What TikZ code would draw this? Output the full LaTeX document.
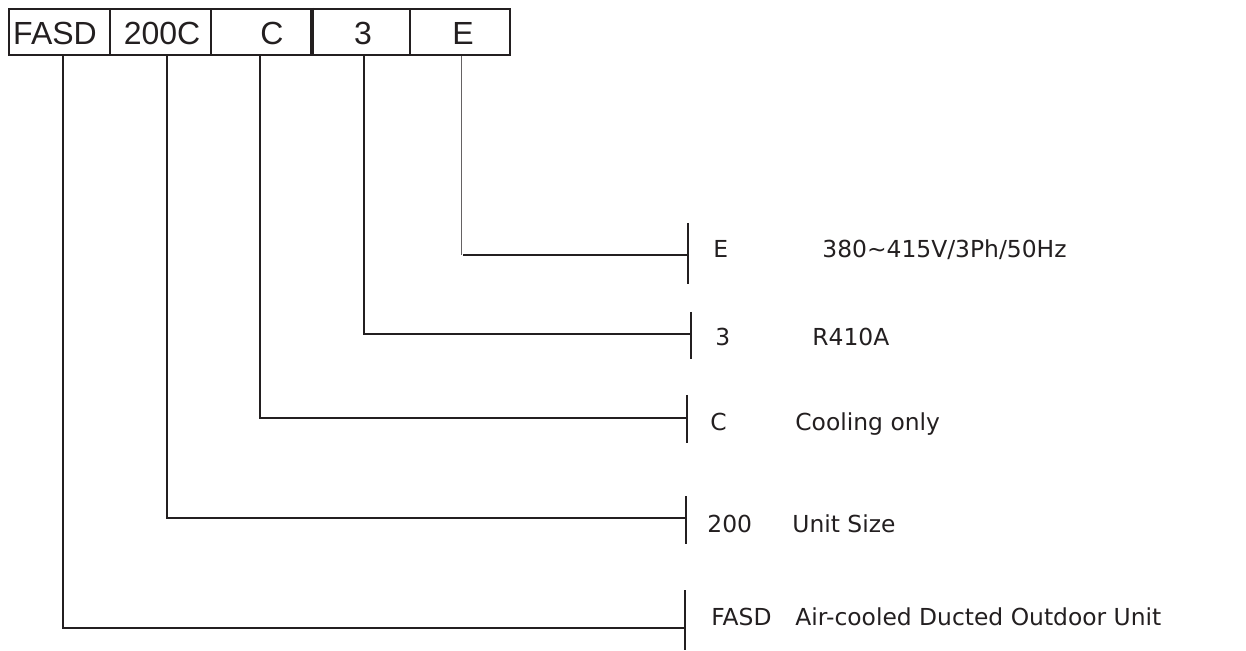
\documentclass[tikz,border=0pt]{standalone}
\usepackage{fontspec}
\setmainfont{DejaVu Sans}
\newfontfamily\boxfont{Liberation Sans}
\definecolor{ink}{HTML}{231F20}
\tikzset{
  codebox/.style={draw=ink, line width=1pt, minimum width=#1*0.5pt, minimum height=23pt, inner sep=0pt},
  boxtext/.style={inner sep=0pt, font=\boxfont\fontsize{16}{18}\selectfont, text=ink},
  lead/.style={draw=ink, line width=1pt},
  thinlead/.style={draw=ink!70, line width=0.5pt},
  teebar/.style={draw=ink, line width=1pt},
  lbl/.style={anchor=base west, inner sep=0pt, font=\fontsize{11.7}{13}\selectfont, text=ink}
}
\begin{document}
\begin{tikzpicture}[x=0.5pt, y=-0.5pt]
\useasboundingbox (0,0) rectangle (1246,651);
% code boxes
\node[codebox=101] (b1) at (59.5,32) {};
\node[codebox=101] (b2) at (160.5,32) {};
\node[codebox=100] (b3) at (261,32) {};
\node[codebox=99]  (b4) at (360.5,32) {};
\node[codebox=100] (b5) at (460,32) {};
\draw[ink, line width=1.5pt] (b3.north east) -- (b3.south east);
\node[boxtext] (bt1) at (55,33) {FASD};
\node[boxtext] (bt2) at (162,33) {200C};
\node[boxtext] (bt3) at (272,33) {C};
\node[boxtext] (bt4) at (363,33) {3};
\node[boxtext] (bt5) at (463,33) {E};
% tee bars
\coordinate (e1) at (688,223);  \coordinate (e2) at (688,284);
\coordinate (r1) at (691,312);  \coordinate (r2) at (691,359);
\coordinate (c1) at (687,395);  \coordinate (c2) at (687,443);
\coordinate (s1) at (686,496);  \coordinate (s2) at (686,544);
\coordinate (f1) at (685,590);  \coordinate (f2) at (685,650);
\draw[teebar] (e1) -- (e2);
\draw[teebar] (r1) -- (r2);
\draw[teebar] (c1) -- (c2);
\draw[teebar] (s1) -- (s2);
\draw[teebar] (f1) -- (f2);
% tee points
\coordinate (te) at (688,255);
\coordinate (tr) at (691,334);
\coordinate (tc) at (687,418);
\coordinate (ts) at (686,518);
\coordinate (tf) at (685,628);
% leads
\draw[lead] ([xshift=3.5*0.5pt]b1.south) |- (tf);
\draw[lead] ([xshift=6.5*0.5pt]b2.south) |- (ts);
\draw[lead] ([xshift=-1*0.5pt]b3.south) |- (tc);
\draw[lead] ([xshift=3.5*0.5pt]b4.south) |- (tr);
\coordinate (ec) at ([xshift=1*0.5pt]b5.south |- te);
\draw[thinlead] ([xshift=1*0.5pt]b5.south) -- (ec);
\draw[lead] ([xshift=2*0.5pt]ec) -- (te);
% labels
\node[lbl] (le) at (713,258) {E};
\node[lbl] (lev) at (822,258) {380\textasciitilde 415V/3Ph/50Hz};
\node[lbl] (lr) at (715,346) {3};
\node[lbl] (lrv) at (812,346) {R410A};
\node[lbl] (lc) at (710,431) {C};
\node[lbl] (lcv) at (795,431) {Cooling only};
\node[lbl] (ls) at (707,532) {200};
\node[lbl] (lsv) at (792,532) {Unit Size};
\node[lbl] (lf) at (711,625) {FASD};
\node[lbl] (lfv) at (795,625) {Air-cooled Ducted Outdoor Unit};
\end{tikzpicture}
\end{document}
